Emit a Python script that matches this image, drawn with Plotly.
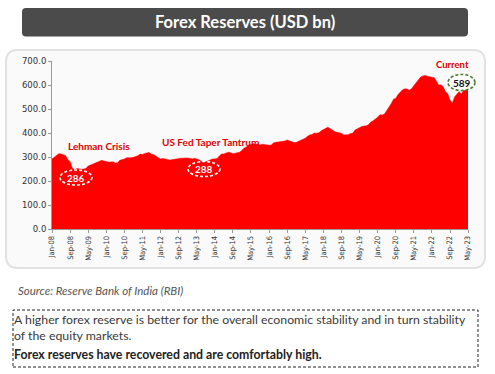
import plotly.graph_objects as go
import pandas as pd

# ---------------- data ----------------
months = pd.date_range("2008-01-01", "2023-05-01", freq="MS")
reserves = [
    292, 299, 309, 314, 313, 310, 306, 290, 280, 253, 247, 252,   # 2008
    250, 249, 250, 252, 262, 266, 272, 277, 281, 285, 286, 283,   # 2009
    280, 279, 279, 280, 275, 276, 286, 288, 292, 297, 296, 297,   # 2010
    299, 302, 305, 312, 310, 315, 318, 319, 311, 310, 303, 296,   # 2011
    292, 294, 293, 290, 287, 289, 289, 291, 294, 295, 295, 296,   # 2012
    296, 294, 292, 295, 292, 289, 282, 278, 280, 284, 289, 292,   # 2013
    292, 294, 304, 312, 313, 315, 320, 318, 314, 316, 317, 320,   # 2014
    328, 338, 342, 350, 352, 355, 353, 354, 350, 353, 352, 350,   # 2015
    349, 350, 359, 361, 362, 363, 366, 367, 371, 367, 364, 360,   # 2016
    361, 366, 370, 372, 378, 386, 392, 394, 400, 399, 401, 409,   # 2017
    414, 420, 424, 419, 412, 406, 403, 400, 399, 392, 391, 393,   # 2018
    398, 400, 412, 418, 421, 427, 429, 430, 435, 446, 451, 457,   # 2019
    466, 476, 475, 479, 493, 506, 522, 541, 545, 560, 572, 580,   # 2020
    584, 583, 578, 584, 597, 609, 620, 633, 638, 640, 636, 633,   # 2021
    631, 630, 617, 600, 601, 593, 573, 564, 537, 524, 550, 562,   # 2022
    573, 561, 578, 588, 589,                                      # 2023
]
tick_labels = ["Jan-08", "Sep-08", "May-09", "Jan-10", "Sep-10", "May-11",
               "Jan-12", "Sep-12", "May-13", "Jan-14", "Sep-14", "May-15",
               "Jan-16", "Sep-16", "May-17", "Jan-18", "Sep-18", "May-19",
               "Jan-20", "Sep-20", "May-21", "Jan-22", "Sep-22", "May-23"]
tick_dates = list(months[::8])
y_ticks = [0, 100, 200, 300, 400, 500, 600, 700]

callouts = [("Lehman Crisis", "286"), ("US Fed Taper Tantrum", "288"), ("Current", "589")]

title_text = "Forex Reserves (USD bn)"
source_text = "Source: Reserve Bank of India (RBI)"
note_line1 = "A higher forex reserve is better for the overall economic stability and in turn stability"
note_line2 = "of the equity markets."
note_line3 = "Forex reserves have recovered and are comfortably high."

# ---------------- geometry helpers (pixel -> paper) ----------------
W, H = 495, 374
L, R, T, B = 52, 468, 61, 229


def px(x):
    return (x - L) / (R - L)


def py(y):
    return (B - y) / (B - T)


def rounded_path(x0, y0, x1, y1, r):
    pts = [
        f"M {px(x0 + r)} {py(y0)}",
        f"L {px(x1 - r)} {py(y0)}",
        f"Q {px(x1)} {py(y0)} {px(x1)} {py(y0 + r)}",
        f"L {px(x1)} {py(y1 - r)}",
        f"Q {px(x1)} {py(y1)} {px(x1 - r)} {py(y1)}",
        f"L {px(x0 + r)} {py(y1)}",
        f"Q {px(x0)} {py(y1)} {px(x0)} {py(y1 - r)}",
        f"L {px(x0)} {py(y0 + r)}",
        f"Q {px(x0)} {py(y0)} {px(x0 + r)} {py(y0)}",
        "Z",
    ]
    return " ".join(pts)


def ellipse(cx, cy, w, h, color, fill="rgba(0,0,0,0)", layer="above"):
    return dict(type="circle", xref="paper", yref="paper",
                x0=px(cx - w / 2), x1=px(cx + w / 2),
                y0=py(cy + h / 2), y1=py(cy - h / 2),
                line=dict(color=color, width=1.6, dash="3px,2px"),
                fillcolor=fill, layer=layer)


fig = go.Figure()
fig.add_trace(go.Scatter(
    x=months, y=reserves, mode="lines", fill="tozeroy",
    fillcolor="#ff0000", line=dict(color="#ff0000", width=0.5),
    hoverinfo="skip", showlegend=False,
))

shapes = [
    # chart panel
    dict(type="path", xref="paper", yref="paper", path=rounded_path(6, 50, 485, 268, 12),
         fillcolor="#fafafa", line=dict(color="#e2e2e2", width=2), layer="below"),
    # title bar
    dict(type="path", xref="paper", yref="paper", path=rounded_path(22, 8, 468, 36.5, 4),
         fillcolor="#4b4b4b", line=dict(width=0), layer="below"),
    # note box
    dict(type="rect", xref="paper", yref="paper",
         x0=px(13), x1=px(478), y0=py(367), y1=py(310),
         line=dict(color="#222222", width=1, dash="3px,2px"), layer="above"),
    ellipse(76, 177.5, 32, 15, "#ffffff"),
    ellipse(204, 169, 32, 15, "#ffffff"),
    ellipse(461.5, 82.5, 27, 16, "#4f7a2c", fill="#ffffff"),
]

FONT = "Lato, 'Open Sans', sans-serif"
annotations = [
    dict(text=f"<b>{title_text}</b>", x=px(245), y=py(22.5), font=dict(family=FONT, size=16.5, color="#ffffff")),
    dict(text=f"<b>{callouts[0][0]}</b>", x=px(98.5), y=py(146), font=dict(family=FONT, size=10, color="#e00000")),
    dict(text=f"<b>{callouts[1][0]}</b>", x=px(210), y=py(142), font=dict(family=FONT, size=10, color="#e00000")),
    dict(text=f"<b>{callouts[2][0]}</b>", x=px(452.5), y=py(64.5), font=dict(family=FONT, size=9.5, color="#e00000")),
    dict(text=f"<b>{callouts[0][1]}</b>", x=px(76), y=py(177.5), font=dict(family=FONT, size=10, color="#ffffff")),
    dict(text=f"<b>{callouts[1][1]}</b>", x=px(204), y=py(169), font=dict(family=FONT, size=10, color="#ffffff")),
    dict(text=f"<b>{callouts[2][1]}</b>", x=px(461.5), y=py(82.5), font=dict(family=FONT, size=10, color="#111111")),
    dict(text=f"<i>{source_text}</i>", x=px(16), y=py(290), xanchor="left",
         font=dict(family=FONT, size=11.5, color="#555555")),
    dict(text=note_line1, x=px(12), y=py(319), xanchor="left", font=dict(family=FONT, size=12.3, color="#3a3a3a")),
    dict(text=note_line2, x=px(12), y=py(335.5), xanchor="left", font=dict(family=FONT, size=12.3, color="#3a3a3a")),
    dict(text=f"<b>{note_line3}</b>", x=px(12), y=py(354), xanchor="left", font=dict(family=FONT, size=12.3, color="#222222")),
]
for a in annotations:
    a.update(xref="paper", yref="paper", showarrow=False)
    a.setdefault("xanchor", "center")
    a.setdefault("yanchor", "middle")

fig.update_layout(
    width=W, height=H, autosize=False,
    margin=dict(l=L, r=W - R, t=T, b=H - B, pad=0),
    paper_bgcolor="#ffffff", plot_bgcolor="rgba(0,0,0,0)",
    shapes=shapes, annotations=annotations, showlegend=False,
    xaxis=dict(
        type="date", range=[months[0], months[-1]],
        tickvals=tick_dates, ticktext=tick_labels, tickangle=-90,
        tickfont=dict(family="DejaVu Sans Condensed, DejaVu Sans", size=7.5, color="#333333"),
        showgrid=False, zeroline=False, showline=True, linecolor="#9a9a9a", linewidth=1,
        ticks="outside", ticklen=3, tickcolor="#9a9a9a",
    ),
    yaxis=dict(
        range=[0, 700], tickvals=y_ticks, tickformat=".1f",
        tickfont=dict(family="DejaVu Sans", size=8.5, color="#333333"),
        showgrid=False, zeroline=False, showline=True, linecolor="#9a9a9a", linewidth=1,
        ticks="outside", ticklen=3, tickcolor="#9a9a9a",
    ),
)

fig.write_html("out.html", config={"displayModeBar": False},
               post_script="document.body.style.margin='0';document.body.style.overflow='hidden';")
